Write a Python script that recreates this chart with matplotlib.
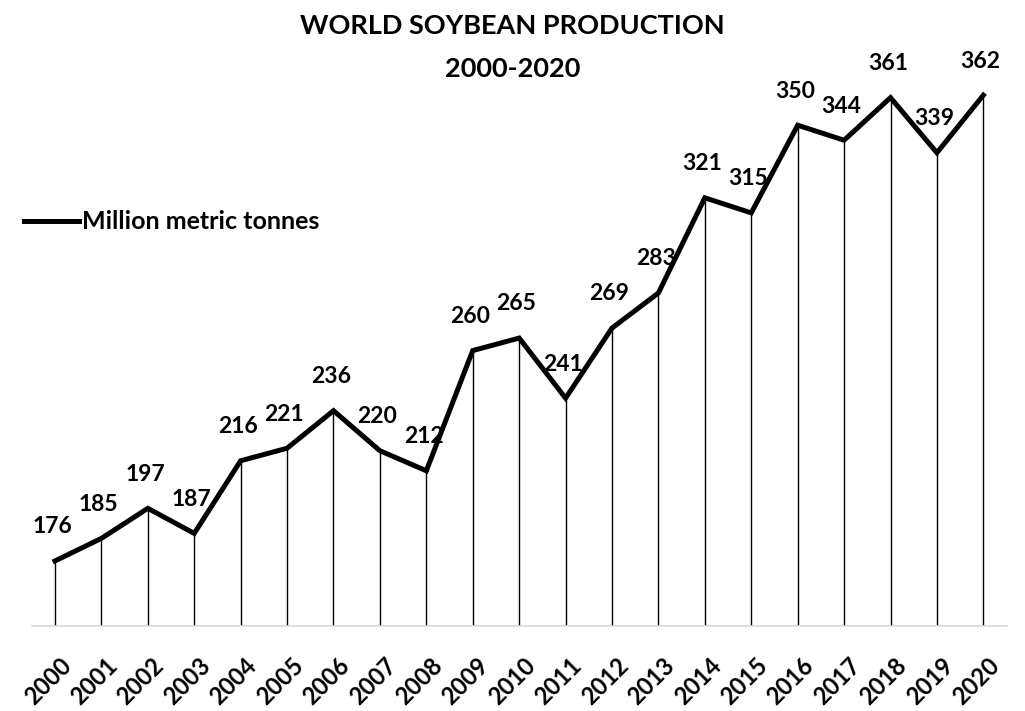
import matplotlib.pyplot as plt
import matplotlib.transforms as mtransforms

plt.rcParams['font.family'] = ['Lato', 'DejaVu Sans']
plt.rcParams['font.weight'] = 'bold'

years = ['2000', '2001', '2002', '2003', '2004', '2005', '2006', '2007', '2008', '2009', '2010',
         '2011', '2012', '2013', '2014', '2015', '2016', '2017', '2018', '2019', '2020']
production = [176, 185, 197, 187, 216, 221, 236, 220, 212, 260, 265,
              241, 269, 283, 321, 315, 350, 344, 361, 339, 362]

fig = plt.figure(figsize=(10.25, 7.11), dpi=100)
ax = fig.add_axes([0.031, 0.1195, 0.951, 0.8805])

x = list(range(len(years)))

# drop lines from each point to the baseline
ax.vlines(x, 150, production, color='black', linewidth=1.0, zorder=2)

# main series
ax.plot(x, production, color='black', linewidth=3.6, solid_joinstyle='miter',
        label='Million metric tonnes', zorder=3)

# data labels above points
for xi, val in zip(x, production):
    ax.annotate(str(val), (xi, val), xytext=(-2, 17), textcoords='offset points',
                ha='center', va='bottom', fontsize=16.5, fontweight='bold')

ax.set_xlim(-0.5, 20.5)
ax.set_ylim(150, 400)

for side in ['top', 'right', 'left']:
    ax.spines[side].set_visible(False)
ax.spines['bottom'].set_color('#d9d9d9')
ax.spines['bottom'].set_linewidth(1.2)
ax.set_yticks([])
ax.set_xticks(x)
ax.set_xticklabels(years, rotation=45, ha='right', rotation_mode='anchor',
                   fontsize=17, fontweight='bold')
ax.tick_params(axis='x', length=0, pad=20)
offset = mtransforms.ScaledTranslation(3 / 72, 0, fig.dpi_scale_trans)
for lbl in ax.get_xticklabels():
    lbl.set_transform(lbl.get_transform() + offset)

# title
fig.text(0.5, 0.963, 'WORLD SOYBEAN PRODUCTION', ha='center', va='center',
         fontsize=19.5, fontweight='bold')
fig.text(0.5, 0.903, '2000-2020', ha='center', va='center',
         fontsize=19.5, fontweight='bold')

leg = ax.legend(loc='center left', bbox_to_anchor=(0.014, 0.688),
                bbox_transform=fig.transFigure, frameon=False, fontsize=18,
                handlelength=2.2, handletextpad=0.1, borderaxespad=0)

plt.savefig('out.png', dpi=100)
